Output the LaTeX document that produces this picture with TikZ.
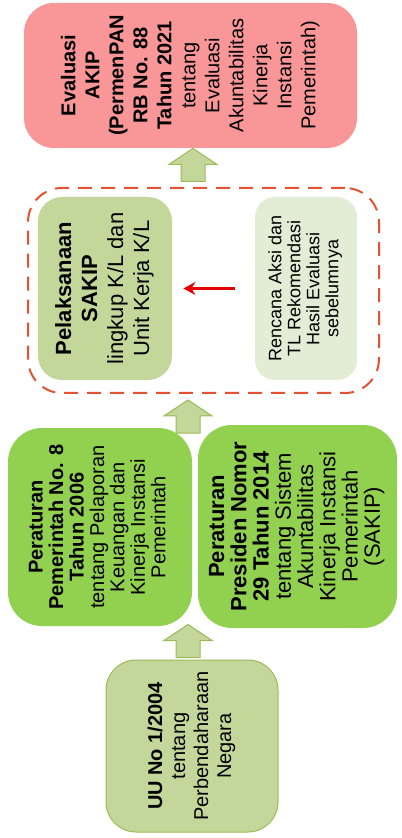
\documentclass[tikz,border=0pt]{standalone}
\usepackage{graphicx}
\usepackage{fontspec}
\setmainfont{Liberation Sans}
\usetikzlibrary{arrows.meta}
\definecolor{akippink}{RGB}{248,150,152}
\definecolor{lawgreen}{RGB}{146,208,80}
\definecolor{olive}{RGB}{196,215,155}
\definecolor{olivelight}{RGB}{227,236,212}
\definecolor{olivedark}{RGB}{155,187,89}
\definecolor{dashred}{RGB}{228,82,52}
\newcommand{\uptext}[3]{\rotatebox{90}{\fontsize{#1}{#2}\selectfont
	\begin{tabular}{@{}c@{}}#3\end{tabular}}}
\begin{document}
\begin{tikzpicture}[x=0.5pt,y=-0.5pt,
	box/.style={rounded corners=15pt,inner sep=0pt,align=center},
	uparrow/.pic={\draw[fill=olive,draw=olivedark,line width=0.5pt]
		(0,0) -- (24,16) -- (12,16) -- (12,33) -- (-12,33) -- (-12,16) -- (-24,16) -- cycle;}]
\useasboundingbox (0,0) rectangle (401,838);
% top: evaluation
\node[box,fill=akippink,minimum width=166.5pt,minimum height=72.5pt] (akip) at (190.5,75.5)
	{\uptext{10}{12}{\textbf{Evaluasi}\\\textbf{AKIP}\\\textbf{(PermenPAN}\\\textbf{RB No. 88}\\
	\textbf{Tahun 2021}\\tentang\\Evaluasi\\Akuntabilitas\\Kinerja\\Instansi\\Pemerintah)}};
% middle: dashed group
\node[draw=dashred,line width=1pt,dash pattern=on 7pt off 4.5pt,rounded corners=17pt,
	minimum width=175.5pt,minimum height=102.5pt] (grp) at (203.5,290.5) {};
\node[box,rounded corners=12pt,fill=olive,minimum width=67pt,minimum height=91.5pt] (pel) at (105,288.5)
	{\uptext{11}{13}{\textbf{Pelaksanaan}\\\textbf{SAKIP}\\lingkup K/L dan\\Unit Kerja K/L}};
\node[box,rounded corners=10pt,fill=olivelight,minimum width=51pt,minimum height=91.5pt] (ren) at (306,288.5)
	{\uptext{9}{9.5}{Rencana Aksi dan\\TL Rekomendasi\\Hasil Evaluasi\\sebelumnya}};
\draw[red!90!black,line width=1.5pt,-{Stealth[length=6pt,width=6.5pt]}]
	([xshift=-10pt]ren.west) -- ([xshift=5.5pt]pel.east);
% arrows between the levels
\coordinate (tip1) at ([xshift=1.25pt]akip.south);
\coordinate (tip2) at ([xshift=-7.75pt,yshift=-3pt]grp.south);
\pic at (tip1) {uparrow};
\pic at (tip2) {uparrow};
% regulations
\node[box,rounded corners=17pt,fill=lawgreen,minimum width=92pt,minimum height=99pt] (pp8) at (100,527)
	{\uptext{10}{10}{\textbf{Peraturan}\\\textbf{Pemerintah No. 8}\\\textbf{Tahun 2006}\\
	tentang Pelaporan\\Keuangan dan\\Kinerja Instansi\\Pemerintah}};
\node[box,rounded corners=17pt,fill=lawgreen,minimum width=99.5pt,minimum height=101.5pt] (perpres) at (297.5,526.5)
	{\uptext{11}{10.5}{\textbf{Peraturan}\\\textbf{Presiden Nomor}\\\textbf{29 Tahun 2014}\\
	tentang Sistem\\Akuntabilitas\\Kinerja Instansi\\Pemerintah\\(SAKIP)}};
% bottom: law
\node[box,fill=olive,draw=olivedark,line width=0.5pt,minimum width=86pt,minimum height=86pt] (uu) at (192,746)
	{\uptext{10}{11.5}{\textbf{UU No 1/2004}\\tentang\\Perbendaharaan\\Negara}};
\coordinate (tip3) at ([xshift=-2pt,yshift=17.5pt]uu.north);
\pic at (tip3) {uparrow};
\end{tikzpicture}
\end{document}
